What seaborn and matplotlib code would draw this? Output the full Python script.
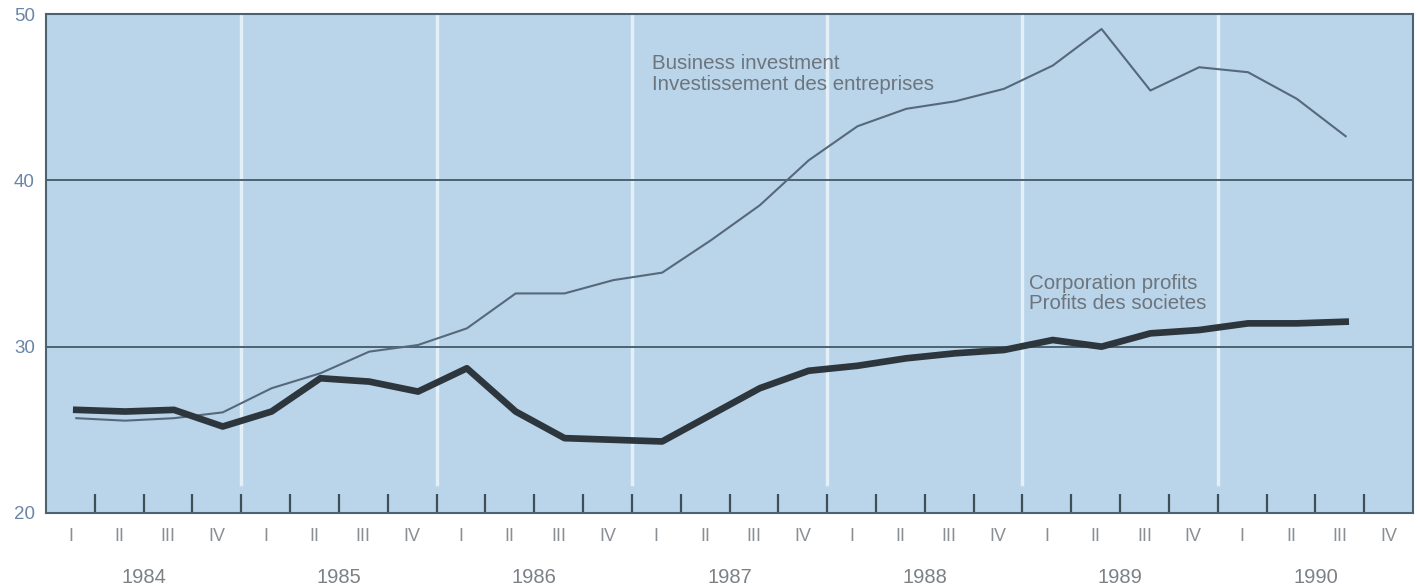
import numpy as np
import pandas as pd
import seaborn as sns
import matplotlib.pyplot as plt

plt.rcParams["font.family"] = ["Liberation Sans", "DejaVu Sans"]

# Quarterly series, 1984 Q1 - 1990 Q3
years = [1984, 1985, 1986, 1987, 1988, 1989, 1990]
quarter_names = ["I", "II", "III", "IV"]

business_investment = [
    25.7, 25.55, 25.7, 26.05,
    27.5, 28.4, 29.7, 30.1,
    31.1, 33.2, 33.2, 34.0,
    34.45, 36.4, 38.5, 41.2,
    43.25, 44.3, 44.75, 45.5,
    46.9, 49.1, 45.4, 46.8,
    46.5, 44.9, 42.65,
]
corporation_profits = [
    26.2, 26.1, 26.2, 25.2,
    26.1, 28.1, 27.9, 27.3,
    28.7, 26.1, 24.5, 24.4,
    24.3, 25.9, 27.5, 28.55,
    28.85, 29.3, 29.6, 29.8,
    30.4, 30.0, 30.8, 31.0,
    31.4, 31.4, 31.5,
]

n_q = len(years) * 4
pos = np.arange(len(business_investment)) + 0.62

df = pd.DataFrame({
    "pos": np.concatenate([pos, pos]),
    "value": business_investment + corporation_profits,
    "series": ["invest"] * len(pos) + ["profits"] * len(pos),
})

fig = plt.figure(figsize=(14.2, 5.86), dpi=100)
ax = fig.add_axes([0.0324, 0.1246, 0.9627, 0.8515])
ax.set_facecolor("#bad4ea")

# year separators (white) and reference lines
for b in range(4, n_q, 4):
    ax.axvline(b, ymin=0.058, ymax=1, color="#e4f0f8", lw=2.5, zorder=1)
for yv in (30, 40):
    ax.axhline(yv, color="#4c6270", lw=1.4, zorder=2)

sns.lineplot(data=df[df.series == "invest"], x="pos", y="value",
             color="#56697a", lw=1.5, ax=ax, zorder=3)
sns.lineplot(data=df[df.series == "profits"], x="pos", y="value",
             color="#2c363c", lw=4.8, ax=ax, zorder=4)

ax.set_xlim(0, n_q)
ax.set_ylim(20, 50)
ax.set_xlabel("")
ax.set_ylabel("")

# bottom ticks at quarter boundaries
ax.set_xticks(range(1, n_q))
ax.tick_params(axis="x", which="major", direction="in", length=14, width=1.6,
               color="#3f4f58", labelbottom=False)
ax.set_xticks(np.arange(n_q) + 0.5, minor=True)
ax.set_xticklabels(quarter_names * len(years), minor=True)
ax.tick_params(axis="x", which="minor", length=0, pad=11,
               labelsize=13, labelcolor="#8a8f94")

ax.set_yticks([20, 30, 40, 50])
ax.tick_params(axis="y", length=0, pad=8, labelsize=13.5, labelcolor="#6a86a6")

for sp in ax.spines.values():
    sp.set_color("#4c6270")
    sp.set_linewidth(1.5)

trans = ax.get_xaxis_transform()
for i, yr in enumerate(years):
    ax.text(i * 4 + 2, -0.13, str(yr), transform=trans, ha="center", va="center",
            fontsize=14.5, color="#7c8186")

ax.text(12.41, 46.4, "Business investment\nInvestissement des entreprises",
        fontsize=14.8, color="#6c757d", linespacing=1.1, va="center")
ax.text(20.14, 33.2, "Corporation profits\nProfits des societes",
        fontsize=14.8, color="#6c757d", linespacing=1.1, va="center")

fig.savefig("out.png", dpi=100, facecolor="white")
